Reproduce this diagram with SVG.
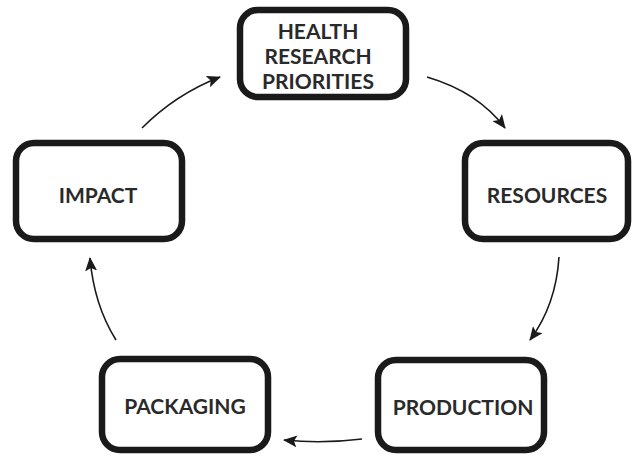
<svg xmlns="http://www.w3.org/2000/svg" width="633" height="456" viewBox="0 0 633 456">
  <defs>
    <marker id="arrowhead" viewBox="0 0 14 12" refX="13" refY="6" markerWidth="14" markerHeight="12" markerUnits="userSpaceOnUse" orient="auto">
      <path d="M0,0 L14,6 L0,12 L3,6 Z" fill="#1a1a1a"/>
    </marker>
  </defs>
  <style>
    .box { fill: #ffffff; stroke: #1a1a1a; stroke-width: 6.5; }
    .label { font-family: Lato, "Liberation Sans", sans-serif; font-weight: bold; font-size: 21px; fill: #2a2a2a; text-anchor: middle; }
    .link { fill: none; stroke: #1a1a1a; stroke-width: 1.6; marker-end: url(#arrowhead); }
  </style>
  <rect width="633" height="456" fill="#ffffff"/>

  <g id="connectors">
    <path class="link" d="M427,77 Q478,92 505,128"/>
    <path class="link" d="M559,257 Q556,305 530,340"/>
    <path class="link" d="M362,439 Q322,444 284,440"/>
    <path class="link" d="M116,340 Q94,305 90,258"/>
    <path class="link" d="M142,128 Q176,94 220,77"/>
  </g>

  <g id="health-research-priorities">
    <rect class="box" x="240" y="10" width="166" height="87" rx="18"/>
    <text class="label" x="318" y="39">HEALTH</text>
    <text class="label" x="318" y="64">RESEARCH</text>
    <text class="label" x="318" y="89">PRIORITIES</text>
  </g>

  <g id="resources">
    <rect class="box" x="465" y="143" width="163" height="96" rx="18"/>
    <text class="label" x="547" y="203">RESOURCES</text>
  </g>

  <g id="production">
    <rect class="box" x="378" y="360" width="166" height="90" rx="18"/>
    <text class="label" x="463" y="415">PRODUCTION</text>
  </g>

  <g id="packaging">
    <rect class="box" x="102" y="359" width="166" height="91" rx="18"/>
    <text class="label" x="185" y="414">PACKAGING</text>
  </g>

  <g id="impact">
    <rect class="box" x="16" y="143" width="166" height="96" rx="18"/>
    <text class="label" x="98" y="203">IMPACT</text>
  </g>
</svg>
